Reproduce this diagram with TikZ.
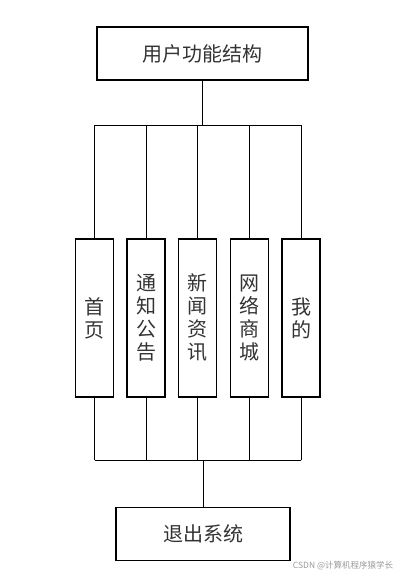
\documentclass[tikz,border=0pt]{standalone}
\usepackage{fontspec}
\newfontfamily\cjk{Noto Sans CJK SC}
\usetikzlibrary{positioning}

\begin{document}
\begin{tikzpicture}[x=1pt,y=-1pt,
		wide/.style={draw, line width=1.1pt, minimum width=211pt, minimum height=53pt, inner sep=0pt, font=\cjk\fontsize{20}{23}\selectfont, text=black!80},
		item/.style={draw, line width=1.1pt, minimum width=38pt, minimum height=158pt, inner sep=0pt, align=center, font=\cjk\fontsize{20}{23}\selectfont, text=black!80},
		link/.style={line width=1pt}]
			\useasboundingbox (0,0) rectangle (405,578);
			\node [wide] (user) at (202.5,53.5) {用户功能结构};
			\node [item] (home) at (94.5,318) {首\\页};
			\node [item] (notice) at (146,318) {通\\知\\公\\告};
			\node [item] (news) at (197.7,318) {新\\闻\\资\\讯};
			\node [item] (shop) at (249.3,318) {网\\络\\商\\城};
			\node [item] (mine) at (301,318) {我\\的};
			\node [wide, minimum width=174pt] (quit) at (203,534.3) {退出系统};
			\coordinate (topbus) at (0,125);
			\coordinate (lowbus) at (0,460.3);
			\draw [line width=1.6pt] (user.south) -- (user.south |- topbus);
			\draw [link] (home.north |- topbus) -- (mine.north |- topbus);
			\draw [link] (home.north) -- (home.north |- topbus);
			\draw [link] (notice.north) -- (notice.north |- topbus);
			\draw [link] (news.north) -- (news.north |- topbus);
			\draw [link] (shop.north) -- (shop.north |- topbus);
			\draw [link] (mine.north) -- (mine.north |- topbus);
			\draw [link] (home.south |- lowbus) -- (mine.south |- lowbus);
			\draw [link] (home.south) -- (home.south |- lowbus);
			\draw [link] (notice.south) -- (notice.south |- lowbus);
			\draw [link] (news.south) -- (news.south |- lowbus);
			\draw [link] (shop.south) -- (shop.south |- lowbus);
			\draw [link] (mine.south) -- (mine.south |- lowbus);
			\draw [link] (quit.north) -- (quit.north |- lowbus);
			\node [font=\cjk\fontsize{8.5}{10}\selectfont, text=black!40] (mark) at (343,566) {CSDN @计算机程序猿学长};
		\end{tikzpicture}
\end{document}
